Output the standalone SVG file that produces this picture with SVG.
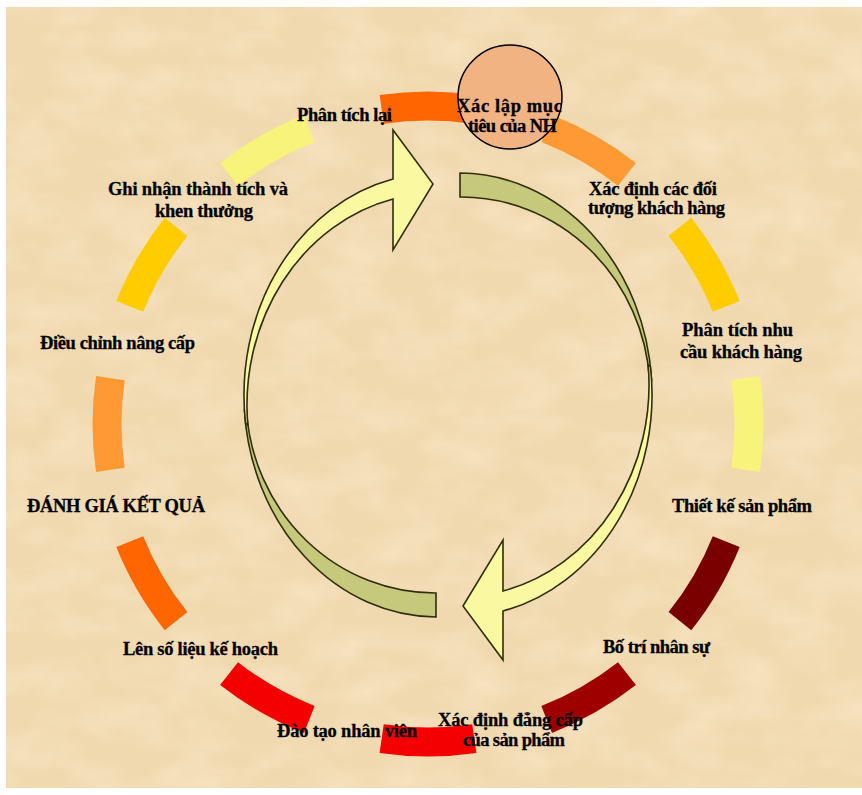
<svg xmlns="http://www.w3.org/2000/svg" width="862" height="795" viewBox="0 0 862 795">
  <defs>
    <filter id="paper" x="0" y="0" width="100%" height="100%">
      <feTurbulence type="fractalNoise" baseFrequency="0.018 0.03" numOctaves="3" seed="11" result="n"/>
      <feColorMatrix in="n" type="matrix" values="0 0 0 0 0.97  0 0 0 0 0.80  0 0 0 0 0.58  0 0 0 1.3 -0.5"/>
    </filter>
    <style>
      .seg { fill: none; stroke-width: 29; stroke-linecap: butt; }
      .s-red-orange { stroke: #FF6600; }
      .s-orange { stroke: #FF9933; }
      .s-gold { stroke: #FFCC00; }
      .s-pale { stroke: #F8F37A; }
      .s-maroon { stroke: #7A0000; }
      .s-darkred { stroke: #9E0000; }
      .s-red { stroke: #F40000; }
      .front { fill: #FBF8A2; stroke: #2E2E0A; stroke-width: 1.6; stroke-linejoin: miter; }
      .back { fill: #C6C87C; stroke: #2E2E0A; stroke-width: 1.6; stroke-linejoin: miter; }
      .lbl { font-family: "Liberation Serif", "Times New Roman", serif; font-weight: bold; font-size: 18.5px; fill: #000; stroke: #000; stroke-width: 0.3; }
    </style>
  </defs>

  <!-- paper background -->
  <rect x="0" y="0" width="862" height="795" fill="#FFFFFF"/>
  <rect x="6" y="7" width="856" height="781" fill="#F0D9AF"/>
  <rect x="6" y="7" width="856" height="781" fill="#FFFFFF" filter="url(#paper)"/>

  <!-- ring of coloured arc segments, clockwise from the top -->
  <g id="ring-segments">
    <path class="seg s-red-orange" d="M381.65,109.34 A321 318 0 0 1 474.35,109.34"/>
    <path class="seg s-orange" d="M546.67,128.55 A321 318 0 0 1 626.96,174.43"/>
    <path class="seg s-gold" d="M679.92,226.9 A321 318 0 0 1 726.24,306.44"/>
    <path class="seg s-pale" d="M745.63,378.08 A321 318 0 0 1 745.63,469.92"/>
    <path class="seg s-maroon" d="M726.24,541.56 A321 318 0 0 1 679.92,621.1"/>
    <path class="seg s-darkred" d="M626.96,673.57 A321 318 0 0 1 546.67,719.45"/>
    <path class="seg s-red" d="M474.35,738.66 A321 318 0 0 1 381.65,738.66"/>
    <path class="seg s-red" d="M309.33,719.45 A321 318 0 0 1 229.04,673.57"/>
    <path class="seg s-red-orange" d="M176.08,621.1 A321 318 0 0 1 129.76,541.56"/>
    <path class="seg s-orange" d="M110.37,469.92 A321 318 0 0 1 110.37,378.08"/>
    <path class="seg s-gold" d="M129.76,306.44 A321 318 0 0 1 176.08,226.9"/>
    <path class="seg s-pale" d="M229.04,174.43 A321 318 0 0 1 309.33,128.55"/>
  </g>

  <!-- two curved arrows forming the inner cycle -->
  <g id="connectors">
    <g id="arrow-left">
      <path class="back" d="M436,617 A193 222 0 0 1 244.4,410 L246.4,410 A189 196 0 0 0 436,593 Z"/>
      <path class="front" d="M245.5,423 A193 222 0 0 1 393,179 L393,130 L433,184 L393,250 L393,199 A190 212 0 0 0 247.8,425 Z"/>
    </g>
    <g id="arrow-right" transform="rotate(180 448 395)">
      <path class="back" d="M436,617 A193 222 0 0 1 244.4,410 L246.4,410 A189 196 0 0 0 436,593 Z"/>
      <path class="front" d="M245.5,423 A193 222 0 0 1 393,179 L393,130 L433,184 L393,250 L393,199 A190 212 0 0 0 247.8,425 Z"/>
    </g>
  </g>

  <!-- step labels, clockwise from the top -->
  <g id="node-xac-lap-muc-tieu">
    <circle cx="510" cy="97" r="52" fill="#F2B383" stroke="#000" stroke-width="1.5"/>
    <text class="lbl" x="457" y="112" textLength="105">Xác lập mục</text>
    <text class="lbl" x="468" y="132" textLength="89">tiêu của NH</text>
  </g>
  <g id="node-xac-dinh-doi-tuong">
    <text class="lbl" x="589" y="195" textLength="128">Xác định các đối</text>
    <text class="lbl" x="588" y="214" textLength="137">tượng khách hàng</text>
  </g>
  <g id="node-phan-tich-nhu-cau">
    <text class="lbl" x="682" y="336" textLength="111">Phân tích nhu</text>
    <text class="lbl" x="680" y="358" textLength="122">cầu khách hàng</text>
  </g>
  <g id="node-thiet-ke">
    <text class="lbl" x="672" y="512" textLength="140">Thiết kế sản phẩm</text>
  </g>
  <g id="node-bo-tri">
    <text class="lbl" x="603" y="653" textLength="107">Bố trí nhân sự</text>
  </g>
  <g id="node-dang-cap">
    <text class="lbl" x="438" y="726" textLength="145">Xác định đẳng cấp</text>
    <text class="lbl" x="463" y="746" textLength="102">của sản phẩm</text>
  </g>
  <g id="node-dao-tao">
    <text class="lbl" x="277" y="737" textLength="140">Đào tạo nhân viên</text>
  </g>
  <g id="node-len-so-lieu">
    <text class="lbl" x="123" y="655" textLength="155">Lên số liệu kế hoạch</text>
  </g>
  <g id="node-danh-gia">
    <text class="lbl" x="27" y="512" textLength="178">ĐÁNH GIÁ KẾT QUẢ</text>
  </g>
  <g id="node-dieu-chinh">
    <text class="lbl" x="40" y="349" textLength="155">Điều chỉnh nâng cấp</text>
  </g>
  <g id="node-ghi-nhan">
    <text class="lbl" x="108" y="195" textLength="180">Ghi nhận thành tích và</text>
    <text class="lbl" x="155" y="217" textLength="98">khen thưởng</text>
  </g>
  <g id="node-phan-tich-lai">
    <text class="lbl" x="297" y="121" textLength="95">Phân tích lại</text>
  </g>
</svg>
